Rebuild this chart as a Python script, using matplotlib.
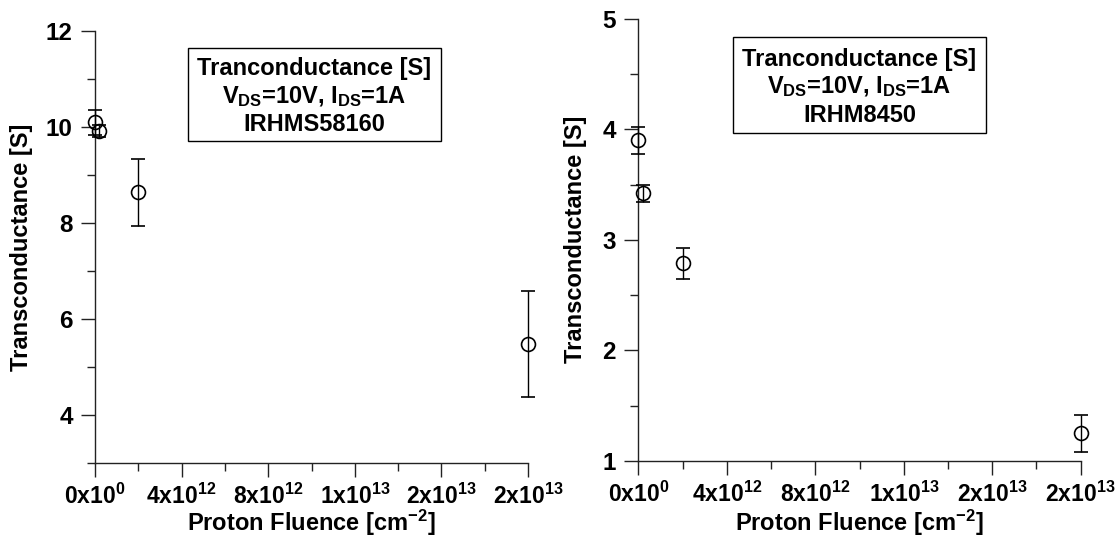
import matplotlib
matplotlib.use('Agg')
import matplotlib.pyplot as plt
from matplotlib.ticker import FixedLocator, FixedFormatter
from matplotlib.patches import Rectangle

# ---------------- data ----------------
fluence = [0.0, 2e11, 2e12, 2e13]

gm_irhms58160 = [10.10, 9.92, 8.64, 5.48]
err_irhms58160 = [0.26, 0.13, 0.70, 1.10]

gm_irhm8450 = [3.90, 3.42, 2.79, 1.25]
err_irhm8450 = [0.12, 0.08, 0.14, 0.165]

x_major = [0, 4e12, 8e12, 1.2e13, 1.6e13, 2e13]
x_minor = [2e12, 6e12, 1e13, 1.4e13, 1.8e13]
x_labels = [r'$0x10^{0}$', r'$4x10^{12}$', r'$8x10^{12}$',
            r'$1x10^{13}$', r'$2x10^{13}$', r'$2x10^{13}$']

left_y_major = [4, 6, 8, 10, 12]
left_y_minor = [3, 5, 7, 9, 11]
right_y_major = [1, 2, 3, 4, 5]
right_y_minor = [1.5, 2.5, 3.5, 4.5]

box_left = ['Tranconductance [S]', r'V$_{DS}$=10V, I$_{DS}$=1A', 'IRHMS58160']
box_right = ['Tranconductance [S]', r'V$_{DS}$=10V, I$_{DS}$=1A', 'IRHM8450']

# ---------------- style ----------------
plt.rcParams['font.family'] = ['Liberation Sans', 'DejaVu Sans']
plt.rcParams['font.weight'] = 'bold'
plt.rcParams['mathtext.fontset'] = 'custom'
plt.rcParams['mathtext.rm'] = 'Liberation Sans:bold'
plt.rcParams['mathtext.bf'] = 'Liberation Sans:bold'
plt.rcParams['mathtext.it'] = 'Liberation Sans:bold'
plt.rcParams['mathtext.sf'] = 'Liberation Sans:bold'
plt.rcParams['mathtext.default'] = 'rm'

W, H = 1120, 541
fig = plt.figure(figsize=(W / 100, H / 100), dpi=100)

ax1 = fig.add_axes([95 / W, 1 - 463 / H, 433 / W, 432 / H])
ax2 = fig.add_axes([638.3 / W, 1 - 461 / H, 442.4 / W, 442.4 / H])

FS_XT = 16.5
FS_YT = 17.5
FS_LAB = 17
FS_BOX = 17


def style(ax, ymaj, ymin, ylim, boxlines, box, ylab_x, xlab_y, hpx):
    ax.set_xlim(0, 2e13)
    ax.set_ylim(*ylim)
    for s in ['top', 'right']:
        ax.spines[s].set_visible(False)
    for s in ['left', 'bottom']:
        ax.spines[s].set_linewidth(1.0)
        ax.spines[s].set_color('#222222')
    ax.xaxis.set_major_locator(FixedLocator(x_major))
    ax.xaxis.set_major_formatter(FixedFormatter(x_labels))
    ax.xaxis.set_minor_locator(FixedLocator(x_minor))
    ax.yaxis.set_major_locator(FixedLocator(ymaj))
    ax.yaxis.set_minor_locator(FixedLocator(ymin))
    ax.tick_params(which='major', direction='out', length=10, width=1.0,
                   color='#222222', pad=5)
    ax.tick_params(axis='x', which='major', labelsize=FS_XT)
    ax.tick_params(axis='y', which='major', labelsize=FS_YT, pad=6)
    ax.tick_params(which='minor', direction='out', length=5.5, width=1.0,
                   color='#222222')
    for lab in ax.get_yticklabels():
        lab.set_fontweight('bold')
    ax.set_xlabel(r'Proton Fluence [cm$^{-2}$]', fontsize=FS_LAB,
                  fontweight='bold', va='center')
    ax.set_ylabel('Transconductance [S]', fontsize=FS_LAB, fontweight='bold')
    ax.yaxis.set_label_coords(ylab_x, 0.5)
    ax.xaxis.set_label_coords(0.5, xlab_y)
    bx0, bx1, by0, by1 = box
    ax.add_patch(Rectangle((bx0, by0), bx1 - bx0, by1 - by0,
                           transform=ax.transAxes, fill=False,
                           edgecolor='black', linewidth=1.0, clip_on=False))
    cx = (bx0 + bx1) / 2
    cy = (by0 + by1) / 2 - 2 / hpx
    dy = 28 / hpx
    for i, t in enumerate(boxlines):
        ax.text(cx, cy + (1 - i) * dy, t, transform=ax.transAxes,
                ha='center', va='center', fontsize=FS_BOX, fontweight='bold')


style(ax1, left_y_major, left_y_minor, (3, 12), box_left,
      (0.2148, 0.799, 0.745, 0.9606), -0.143, -0.139, 432)
style(ax2, right_y_major, right_y_minor, (1, 5), box_right,
      (0.214, 0.786, 0.7414, 0.958), -0.116, -0.140, 442.4)

for ax, y, e in [(ax1, gm_irhms58160, err_irhms58160),
                 (ax2, gm_irhm8450, err_irhm8450)]:
    ax.errorbar(fluence, y, yerr=e, fmt='o', mfc='none', mec='black',
                mew=1.2, ms=10, ecolor='black', elinewidth=1.0,
                capsize=5, capthick=1.0, clip_on=False, zorder=3)

fig.savefig('out.png', dpi=100)
